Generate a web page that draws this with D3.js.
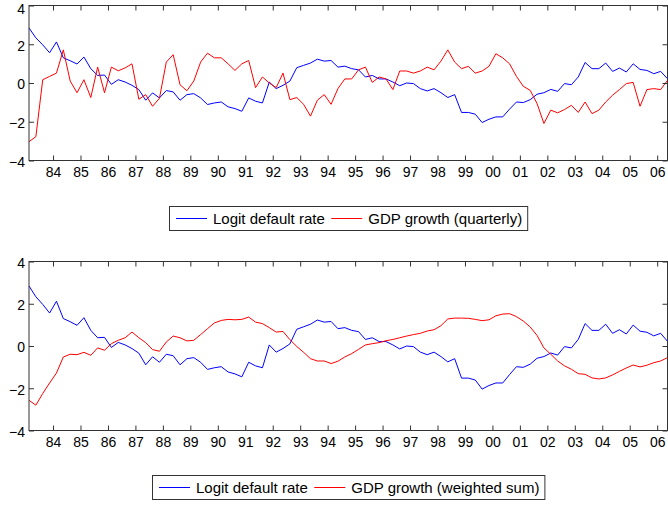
<!DOCTYPE html>
<html>
<head>
<meta charset="utf-8">
<script src="https://cdn.jsdelivr.net/npm/d3@7"></script>
<style>
  body { margin: 0; background: #fff; }
  svg { display: block; font-family: Arial, "Liberation Sans", sans-serif; }
  .axis text { font-size: 14px; fill: #000; }
  .axis line { stroke: #333; }
  .legend text { font-size: 15px; fill: #000; }
</style>
</head>
<body>
<svg id="chart"></svg>
<script>
// Data: quarterly, 1983Q1 .. 2006Q2
const startYear = 1983;
const tickYears = d3.range(1984, 2007);
const tickLabels = ["84", "85", "86", "87", "88", "89", "90", "91", "92", "93", "94", "95",
                    "96", "97", "98", "99", "00", "01", "02", "03", "04", "05", "06"];
const yTicks = [-4, -2, 0, 2, 4];

const logitDefault = [
  2.84, 2.33, 1.97, 1.56, 2.12, 1.30, 1.15, 0.98, 1.34, 0.74,
  0.39, 0.41, -0.07, 0.17, 0.05, -0.12, -0.34, -0.89, -0.51, -0.77,
  -0.39, -0.46, -0.89, -0.60, -0.55, -0.77, -1.11, -1.03, -0.98, -1.23,
  -1.32, -1.46, -0.77, -0.94, -1.03, 0.05, -0.29, -0.12, 0.10, 0.79,
  0.91, 1.03, 1.23, 1.13, 1.16, 0.82, 0.87, 0.74, 0.68, 0.31,
  0.39, 0.21, 0.21, 0.05, -0.14, 0.00, -0.03, -0.29, -0.41, -0.29,
  -0.50, -0.75, -0.60, -1.52, -1.52, -1.61, -2.04, -1.87, -1.75, -1.75,
  -1.35, -0.98, -1.01, -0.86, -0.58, -0.50, -0.33, -0.43, -0.03, -0.09,
  0.31, 1.06, 0.74, 0.74, 1.03, 0.60, 0.77, 0.57, 0.99, 0.70,
  0.65, 0.48, 0.60, 0.22
];

const gdpQuarterly = [
  -3.03, -2.77, 0.17, 0.34, 0.51, 1.71, 0.10, -0.50, 0.17, -0.75,
  0.82, -0.50, 0.82, 0.63, 0.78, 0.99, -0.84, -0.60, -1.20, -0.79,
  1.08, 1.46, -0.09, -0.40, 0.10, 1.08, 1.54, 1.30, 1.30, 0.99,
  0.65, 0.99, 1.16, -0.24, 0.31, 0.00, -0.24, 0.51, -0.86, -0.75,
  -1.10, -1.71, -0.89, -0.60, -1.10, -0.29, 0.21, 0.21, 0.68, 0.82,
  0.03, 0.31, 0.21, -0.34, 0.62, 0.62, 0.51, 0.62, 0.82, 0.68,
  1.13, 1.71, 1.08, 0.74, 0.86, 0.51, 0.62, 0.86, 1.51, 1.30,
  0.99, 0.34, -0.17, -0.38, -1.06, -2.09, -1.40, -1.54, -1.37, -1.15,
  -1.52, -0.98, -1.58, -1.40, -0.98, -0.63, -0.34, -0.03, 0.03, -1.20,
  -0.34, -0.29, -0.34, 0.14
];

const gdpWeighted = [
  -2.57, -2.80, -2.25, -1.75, -1.28, -0.52, -0.39, -0.41, -0.30, -0.44,
  -0.09, -0.20, 0.11, 0.27, 0.39, 0.66, 0.39, 0.16, -0.17, -0.25,
  0.19, 0.47, 0.39, 0.24, 0.27, 0.54, 0.82, 1.09, 1.21, 1.26,
  1.24, 1.26, 1.37, 1.13, 1.06, 0.87, 0.66, 0.69, 0.30, -0.02,
  -0.30, -0.60, -0.71, -0.71, -0.83, -0.72, -0.52, -0.36, -0.16, 0.05,
  0.11, 0.16, 0.25, 0.31, 0.39, 0.47, 0.54, 0.60, 0.71, 0.77,
  0.96, 1.28, 1.32, 1.32, 1.31, 1.26, 1.20, 1.24, 1.43, 1.51,
  1.53, 1.39, 1.18, 0.90, 0.50, -0.09, -0.39, -0.71, -0.94, -1.10,
  -1.31, -1.34, -1.51, -1.56, -1.51, -1.37, -1.20, -1.04, -0.90, -0.99,
  -0.91, -0.79, -0.71, -0.55
];

// mid-quarter time stamps
const dates = logitDefault.map((_, i) => startYear + 0.125 + i * 0.25);

// Configuration
const width = 668, height = 505;
const blue = "#0000ff", red = "#ff0000";

const panels = [
  { top: 5.5, bottom: 160.5, legendY: 206.5,
    series: [
      { name: "Logit default rate", values: logitDefault, color: blue },
      { name: "GDP growth (quarterly)", values: gdpQuarterly, color: red }
    ] },
  { top: 261.5, bottom: 430.5, legendY: 475.5,
    series: [
      { name: "Logit default rate", values: logitDefault, color: blue },
      { name: "GDP growth (weighted sum)", values: gdpWeighted, color: red }
    ] }
];
const left = 29, right = 667.5;

const svg = d3.select("#chart").attr("width", width).attr("height", height);

function createScales(panel) {
  const xScale = d3.scaleLinear().domain(d3.extent(dates)).range([left, right]);
  const yScale = d3.scaleLinear().domain([-4, 4]).range([panel.bottom, panel.top]);
  return { xScale, yScale };
}

function drawAxes(g, panel, scales) {
  const { xScale, yScale } = scales;
  const labelOf = d => tickLabels[tickYears.indexOf(d)];

  g.append("g").attr("class", "axis")
    .attr("transform", `translate(0,${panel.bottom})`)
    .call(d3.axisBottom(xScale).tickValues(tickYears).tickSize(-5).tickPadding(7).tickFormat(labelOf))
    .call(a => a.select(".domain").remove());

  g.append("g").attr("class", "axis")
    .attr("transform", `translate(0,${panel.top})`)
    .call(d3.axisTop(xScale).tickValues(tickYears).tickSize(-5).tickFormat(""))
    .call(a => a.select(".domain").remove());

  const yAxis = g.append("g").attr("class", "axis")
    .attr("transform", `translate(${left},0)`)
    .call(d3.axisLeft(yScale).tickValues(yTicks).tickSize(-5).tickPadding(4))
    .call(a => a.select(".domain").remove());
  yAxis.selectAll("text").attr("dy", "0.42em");
  // keep the top label inside the page
  yAxis.selectAll(".tick").each(function () {
    const box = this.getBBox();
    const ty = yScale(d3.select(this).datum());
    if (ty + box.y < 0) d3.select(this).select("text").attr("y", -(ty + box.y));
  });

  g.append("g").attr("class", "axis")
    .attr("transform", `translate(${right},0)`)
    .call(d3.axisRight(yScale).tickValues(yTicks).tickSize(-5).tickFormat(""))
    .call(a => a.select(".domain").remove());

  g.selectAll(".axis text").attr("font-family", null);
}

function drawLines(g, panel, scales) {
  const { xScale, yScale } = scales;
  const line = d3.line().x((d, i) => xScale(dates[i])).y(d => yScale(d));
  panel.series.forEach(s => {
    g.append("path")
      .datum(s.values)
      .attr("d", line)
      .attr("fill", "none")
      .attr("stroke", s.color)
      .attr("stroke-width", 1);
  });
}

function drawFrame(g, panel) {
  g.append("rect")
    .attr("x", left).attr("y", panel.top)
    .attr("width", right - left).attr("height", panel.bottom - panel.top)
    .attr("fill", "none").attr("stroke", "#333");
}

function drawLegend(g, panel) {
  const lg = g.append("g").attr("class", "legend");
  const box = lg.append("rect").attr("fill", "#fff").attr("stroke", "#333");
  const h = 24, sample = 31, pad = 6.5;
  let x = 0;
  panel.series.forEach((s, i) => {
    x += (i === 0 ? pad : 6.5);
    lg.append("line")
      .attr("x1", x).attr("x2", x + sample)
      .attr("y1", h / 2).attr("y2", h / 2)
      .attr("stroke", s.color);
    x += sample + 6;
    const t = lg.append("text").attr("x", x).attr("y", h / 2 + 5).text(s.name);
    x += t.node().getComputedTextLength();
  });
  const w = x + 5.5;
  box.attr("x", 0).attr("y", 0).attr("width", w).attr("height", h);
  const x0 = Math.round((left + right) / 2 - w / 2) + 0.5;
  lg.attr("transform", `translate(${x0},${panel.legendY})`);
}

panels.forEach(panel => {
  const g = svg.append("g");
  const scales = createScales(panel);
  drawLines(g, panel, scales);
  drawAxes(g, panel, scales);
  drawFrame(g, panel);
  drawLegend(g, panel);
});
</script>
</body>
</html>
